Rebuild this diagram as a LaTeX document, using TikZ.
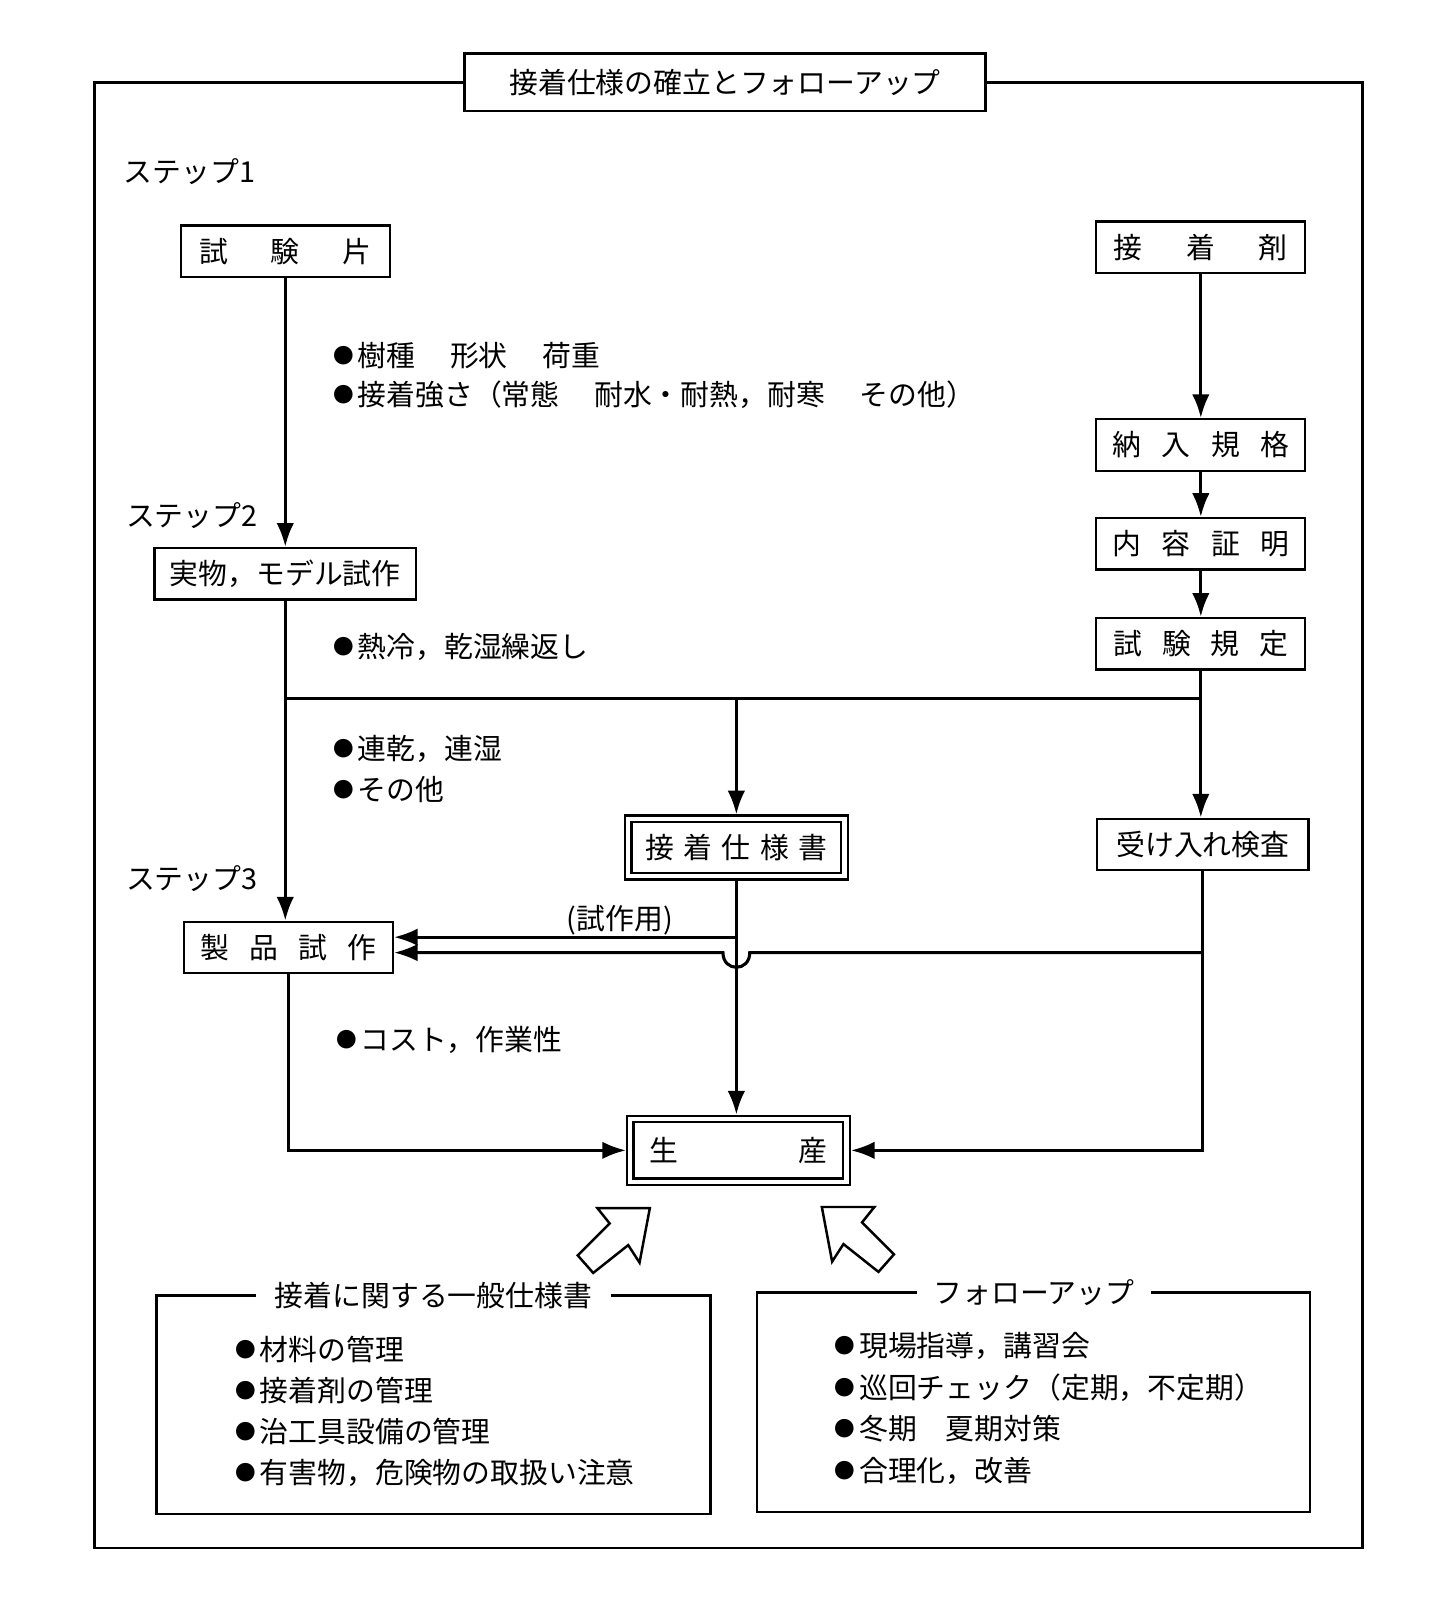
\documentclass[tikz,border=0pt]{standalone}
\usepackage{fontspec}
\setmainfont{Noto Sans CJK JP}
\usepackage{tikz}
\usetikzlibrary{arrows.meta}
\tikzset{box/.style={draw, line width=1.1pt, inner sep=0pt, minimum width=101.5pt, minimum height=25pt, font=\fontsize{14}{16}\selectfont},
  dbox/.style={box, double, double distance=2pt, outer sep=2.1pt},
  flow/.style={line width=1.5pt, -{Latex[length=11.5pt,width=8.5pt]}},
  wire/.style={line width=1.5pt},
  note/.style={anchor=west, inner sep=0pt, font=\fontsize{14}{16}\selectfont},
  head/.style={inner sep=0pt, font=\fontsize{14}{16}\selectfont},
  bigarrow/.style={draw, line width=1.2pt, fill=white, line join=miter}}
\newcommand{\spreadtext}[2]{\makebox[#1][s]{#2}}
\newcommand{\dotmark}{\raisebox{1.4pt}{\fontsize{10}{10}\selectfont ●}\hspace{2pt}}
\begin{document}
\begin{tikzpicture}[x=0.5pt,y=-0.5pt]
      \useasboundingbox (0,0) rectangle (1410,1574);
      \draw [line width=1.3pt] (92,80) rectangle (1323,1503);
      \node [box, head, fill=white, minimum width=253pt, minimum height=28pt] (title) at (704,80) {接着仕様の確立とフォローアップ};

      \node [note] (step1) at (120,167) {ステップ1};
      \node [note] (step2) at (122,501) {ステップ2};
      \node [note] (step3) at (122,853) {ステップ3};

      \node [box] (piece) at (277,244) {\spreadtext{83.5pt}{試\hfil 験\hfil 片}};
      \node [box] (model) at (277,557) [minimum width=127pt] {実物，モデル試作};
      \node [box] (trial) at (280,920) {\spreadtext{85pt}{製\hfil 品\hfil 試\hfil 作}};
      \node [box] (glue) at (1166,240) {\spreadtext{84.5pt}{接\hfil 着\hfil 剤}};
      \node [box] (norm) at (1166,432) {\spreadtext{86pt}{納\hfil 入\hfil 規\hfil 格}};
      \node [box] (cert) at (1166,528) {\spreadtext{86pt}{内\hfil 容\hfil 証\hfil 明}};
      \node [box] (rule) at (1166,625) {\spreadtext{85pt}{試\hfil 験\hfil 規\hfil 定}};
      \node [box] (accept) at (1168,820) [minimum width=102.5pt] {受け入れ検査};
      \node [dbox] (spec) at (715,823) [minimum width=105pt, minimum height=28pt] {\spreadtext{88.5pt}{接\hfil 着\hfil 仕\hfil 様\hfil 書}};
      \node [dbox] (mfg) at (717,1117) [minimum width=105pt, minimum height=30.5pt] {\spreadtext{86pt}{生\hfil 産}};

      \node [note] (n1) at (323,345) {\dotmark 樹種\hspace{1.2em}形状\hspace{1.2em}荷重};
      \node [note] (n2) at (323,383) {\dotmark 接着強さ（常態\hspace{1.2em}耐水・耐熱，耐寒\hspace{1.2em}その他）};
      \node [note] (n3) at (323,628) {\dotmark 熱冷，乾湿繰返し};
      \node [note] (n4) at (323,727) {\dotmark 連乾，連湿};
      \node [note] (n5) at (323,767) {\dotmark その他};
      \node [note] (n6) at (326,1010) {\dotmark コスト，作業性};
      \node [note, anchor=center] (forTrial) at (602,894) {(試作用)};

      \draw [flow] (piece.south) -- (piece.south |- model.north);
      \draw [flow] (glue.south) -- (norm.north);
      \draw [flow] (norm.south) -- (cert.north);
      \draw [flow] (cert.south) -- (rule.north);

      \coordinate (bus) at (0,678);
      \draw [wire] (model.south |- bus) -- (rule.south |- bus);
      \draw [flow] (model.south) -- (model.south |- trial.north);
      \draw [flow] (spec.north |- bus) -- (spec.north);
      \draw [flow] (rule.south) -- (rule.south |- accept.north);

      \coordinate (tap) at (spec.south |- 0,910);
      \coordinate (tapR) at (accept.south |- 0,925);
      \draw [flow] (tap) -- (tap -| trial.east);
      \draw [flow] (tapR) -- (728,925) .. controls (728,944) and (702,944) .. (702,925) -- (tapR -| trial.east);

      \draw [flow] (spec.south) -- (spec.south |- mfg.north);
      \draw [flow] (trial.south) -- (trial.south |- mfg.west) -- (mfg.west);
      \draw [flow] (accept.south) -- (accept.south |- mfg.east) -- (mfg.east);

      \draw [bigarrow] (631,1173) -- (621,1226) -- (610,1209) -- (576,1236) -- (561,1219) -- (592,1188) -- (580,1173) -- cycle;
      \draw [bigarrow] (798,1172) -- (808,1225) -- (819,1208) -- (853,1235) -- (868,1218) -- (837,1187) -- (849,1172) -- cycle;

      \draw [line width=1.1pt] (152,1258) rectangle (690,1470);
      \node [head, fill=white, inner xsep=9pt, inner ysep=2pt] (genTitle) at (421,1258) {接着に関する一般仕様書};
      \node [note] (g1) at (228,1310) {\dotmark 材料の管理};
      \node [note] (g2) at (228,1350) {\dotmark 接着剤の管理};
      \node [note] (g3) at (228,1390) {\dotmark 治工具設備の管理};
      \node [note] (g4) at (228,1430) {\dotmark 有害物，危険物の取扱い注意};

      \draw [line width=1.1pt] (735,1255) rectangle (1272,1468);
      \node [head, fill=white, inner xsep=8pt, inner ysep=2pt] (fuTitle) at (1004,1255) {フォローアップ};
      \node [note] (f1) at (810,1307) {\dotmark 現場指導，講習会};
      \node [note] (f2) at (810,1347) {\dotmark 巡回チェック（定期，不定期）};
      \node [note] (f3) at (810,1387) {\dotmark 冬期\hspace{1em}夏期対策};
      \node [note] (f4) at (810,1428) {\dotmark 合理化，改善};
    \end{tikzpicture}
\end{document}
